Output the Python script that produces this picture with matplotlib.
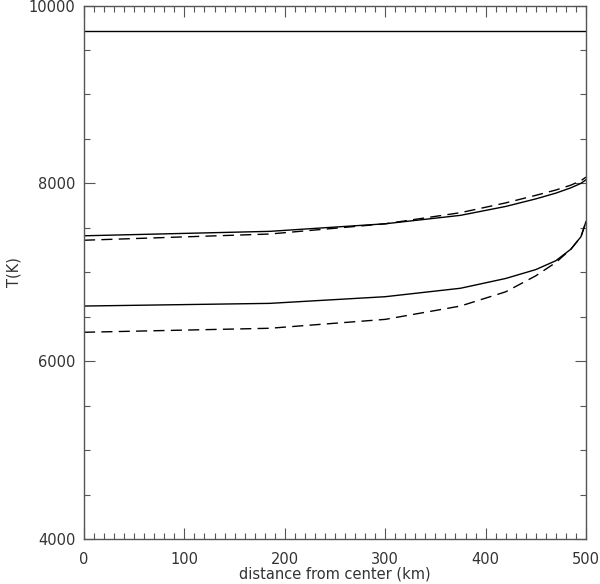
import matplotlib
matplotlib.use("Agg")
import matplotlib.pyplot as plt
from matplotlib.ticker import MultipleLocator

# distance from center (km)
x = [0, 185, 300, 375, 420, 450, 470, 485, 495, 500]
upper_solid = [7410, 7460, 7545, 7640, 7740, 7825, 7890, 7950, 8000, 8040]
upper_dashed = [7360, 7430, 7545, 7670, 7780, 7865, 7925, 7980, 8030, 8070]
lower_solid = [6620, 6650, 6725, 6820, 6930, 7030, 7130, 7260, 7400, 7570]
lower_dashed = [6325, 6370, 6470, 6620, 6780, 6960, 7110, 7260, 7400, 7570]
top_x = [0, 500]
top_solid = [9710, 9710]

xticks = [0, 100, 200, 300, 400, 500]
yticks = [4000, 6000, 8000, 10000]

txt = "#333333"
spine = "#555555"

fig = plt.figure(figsize=(6.0, 5.84), dpi=100)
ax = fig.add_axes([84/600, 1-539/584, (586-84)/600, (539-5.5)/584])

ax.plot(top_x, top_solid, color="black", lw=1.0)
ax.plot(x, upper_solid, color="black", lw=1.0)
ax.plot(x, upper_dashed, color="black", lw=1.0, dashes=(8, 4.5))
ax.plot(x, lower_solid, color="black", lw=1.0)
ax.plot(x, lower_dashed, color="black", lw=1.0, dashes=(8, 4.5))

ax.set_xlim(0, 500)
ax.set_ylim(4000, 10000)
ax.set_xticks(xticks)
ax.set_yticks(yticks)
ax.xaxis.set_minor_locator(MultipleLocator(10))
ax.yaxis.set_minor_locator(MultipleLocator(500))

for s in ax.spines.values():
    s.set_color(spine)
    s.set_linewidth(1.0)

ax.tick_params(which="both", direction="in", top=True, right=True,
               color=spine, width=0.8, labelcolor=txt, labelsize=10.5)
ax.tick_params(which="major", length=8, pad=6)
ax.tick_params(axis="x", which="major", pad=9)
ax.tick_params(which="minor", length=4.5)

ax.set_xlabel("distance from center (km)", fontsize=10.5, color=txt, labelpad=0)
ax.set_ylabel("T(K)", fontsize=10.5, color=txt)
ax.yaxis.set_label_coords(-0.125, 0.5)

fig.savefig("out.png", dpi=100)
